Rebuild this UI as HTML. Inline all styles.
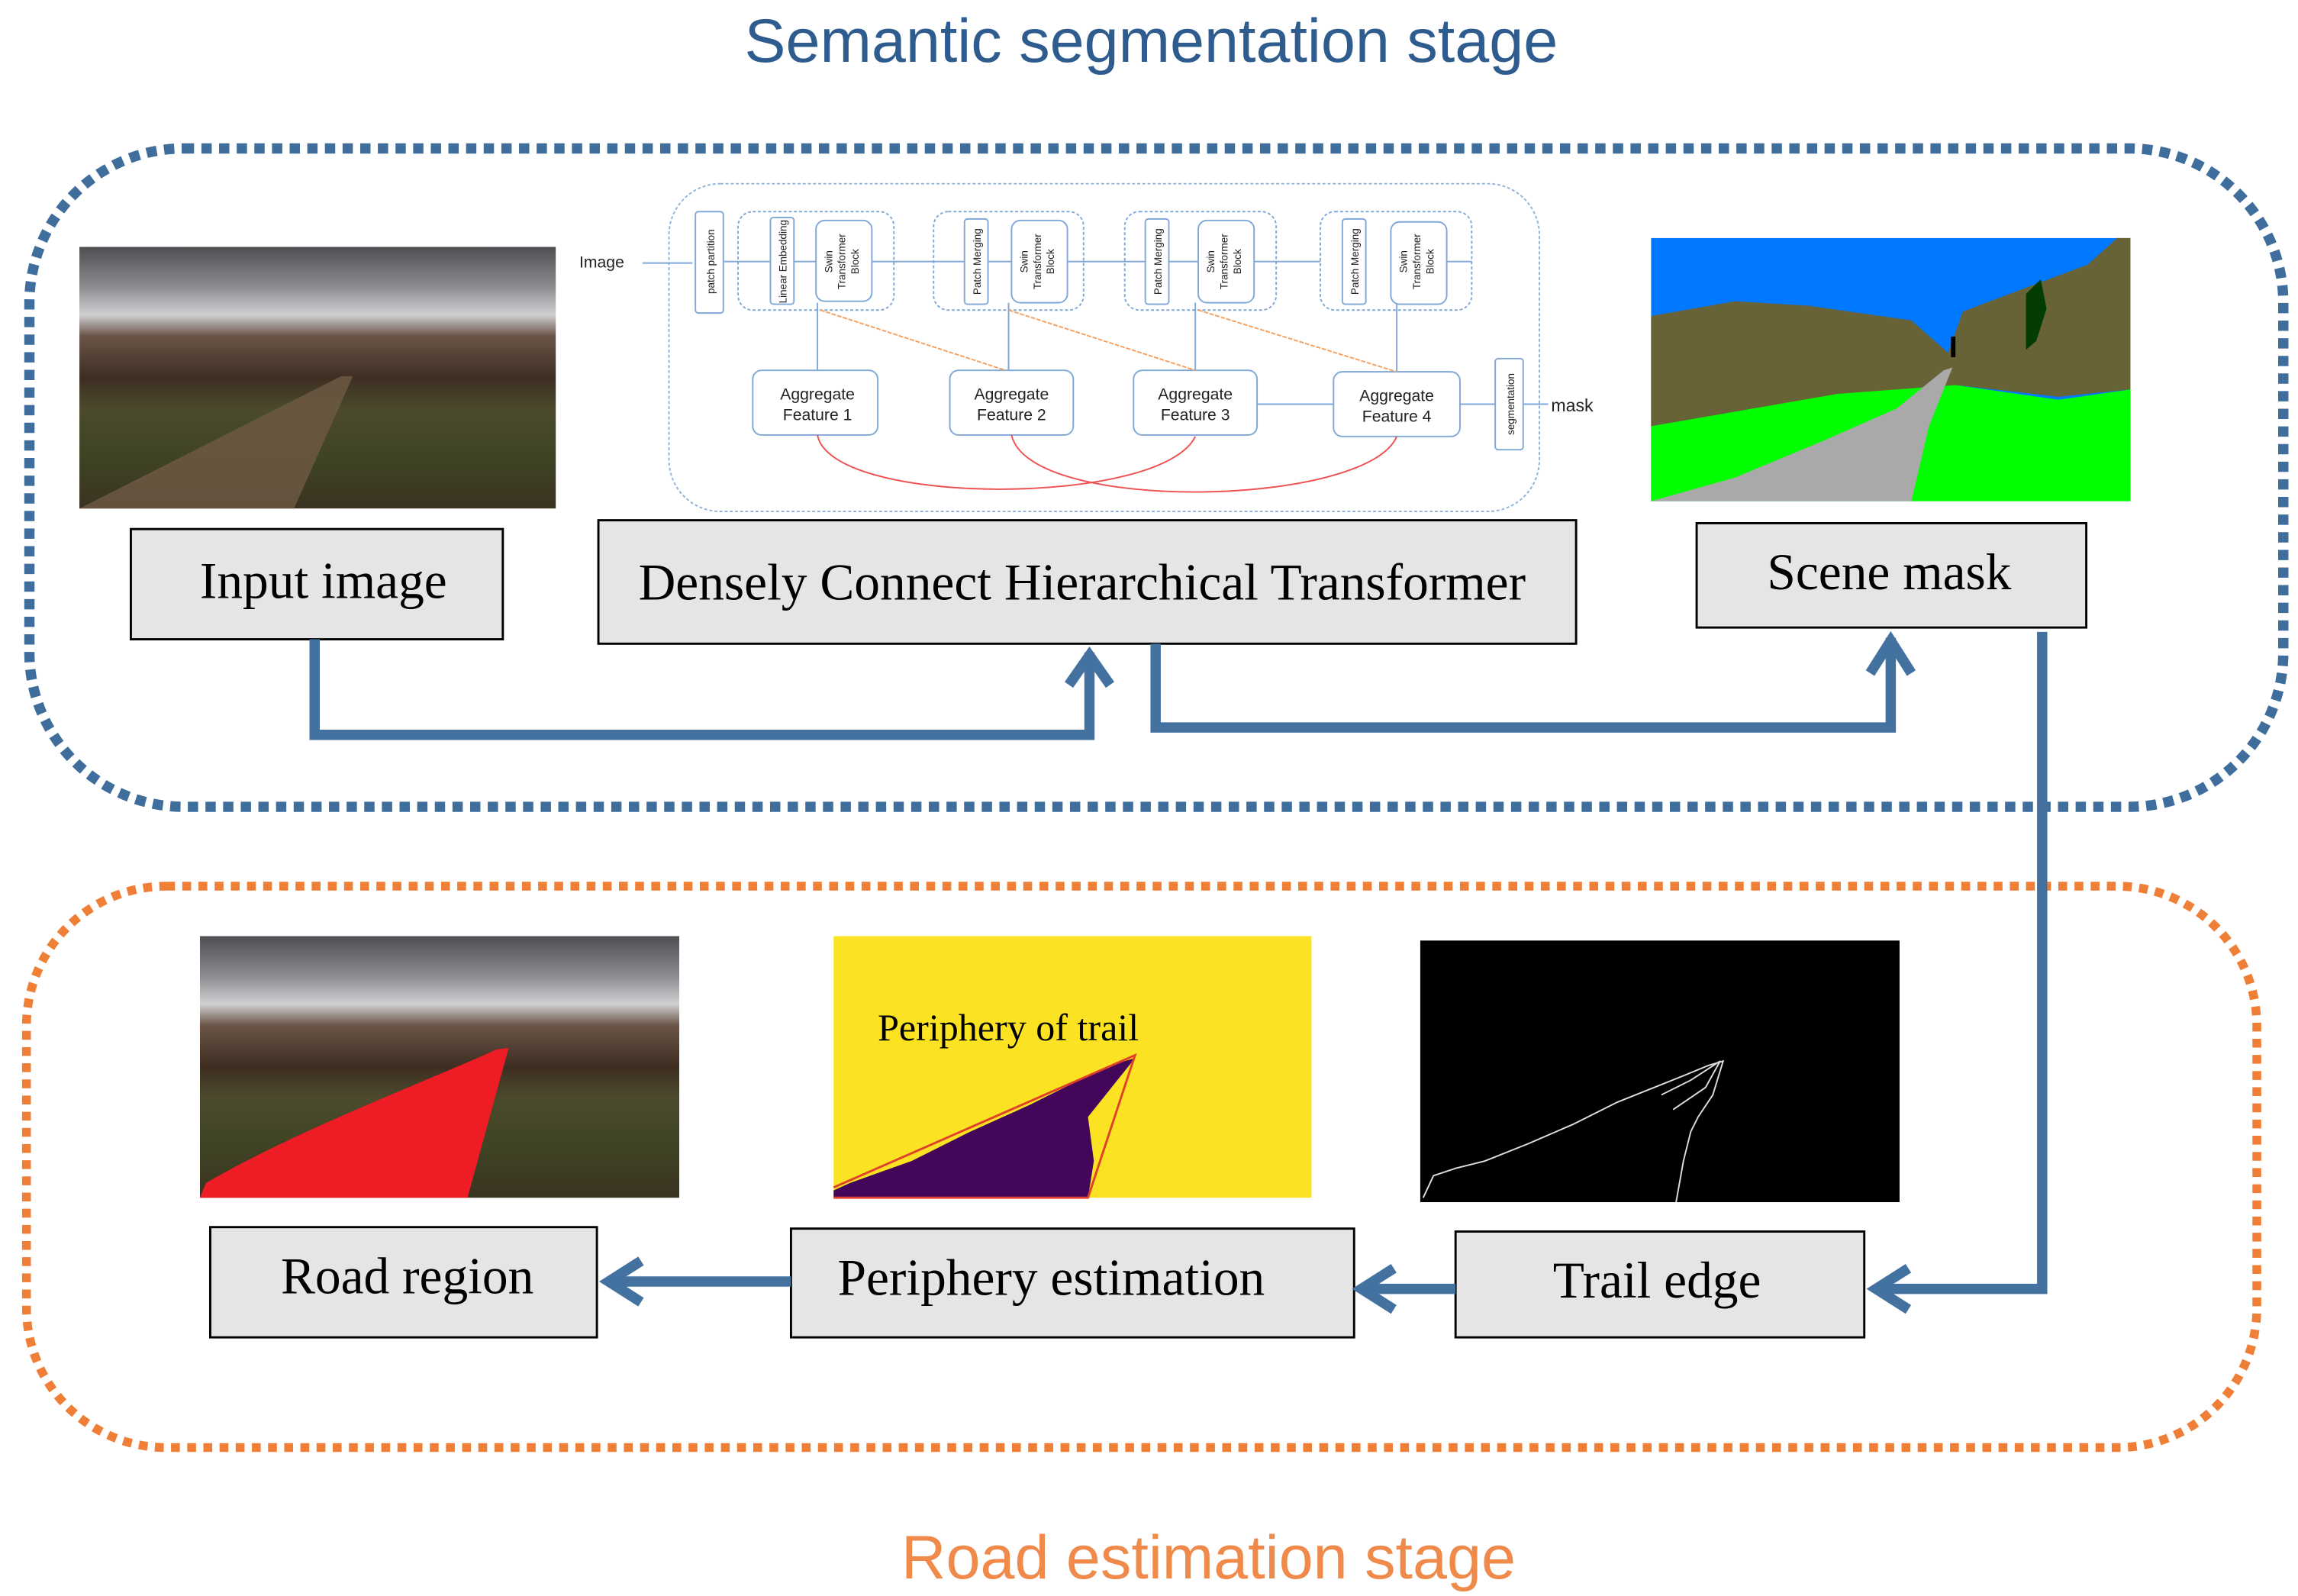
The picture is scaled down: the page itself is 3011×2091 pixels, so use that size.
<!DOCTYPE html>
<html><head><meta charset="utf-8"><style>
html,body{margin:0;padding:0;background:#fff;}
svg{display:block;}
.s{font-family:"Liberation Serif",serif;}
.a{font-family:"Liberation Sans",sans-serif;}
</style></head><body>
<svg width="3011" height="2091" viewBox="0 0 1563 1086" preserveAspectRatio="none" xmlns="http://www.w3.org/2000/svg">
<defs>
<linearGradient id="ph" x1="0" y1="0" x2="0" y2="1">
<stop offset="0" stop-color="#4e4f52"/><stop offset="0.15" stop-color="#8a8b8e"/><stop offset="0.26" stop-color="#cfd0d2"/><stop offset="0.34" stop-color="#6b5548"/><stop offset="0.5" stop-color="#3e2e22"/><stop offset="0.62" stop-color="#4b4a2c"/><stop offset="0.8" stop-color="#3f4424"/><stop offset="1" stop-color="#3a3322"/>
</linearGradient>
</defs>
<text x="783" y="42" text-anchor="middle" class="a" font-size="42" fill="#2f5c8e">Semantic segmentation stage</text>
<text x="822" y="1074" text-anchor="middle" class="a" font-size="42" fill="#f08a4b">Road estimation stage</text>
<rect x="20" y="101" width="1533" height="448" rx="105" fill="none" stroke="#3f6e9c" stroke-width="7" stroke-dasharray="7 5"/>
<rect x="18" y="603" width="1517" height="382" rx="95" fill="none" stroke="#ef7f36" stroke-width="6" stroke-dasharray="6 5"/>

<g>
<rect x="54" y="168" width="324" height="178" fill="url(#ph)"/>
<polygon points="54,346 200,346 240,256 232,256" fill="#6f5a45" opacity="0.8"/>
</g>
<g>
<rect x="1123" y="162" width="326" height="179" fill="#0078ff"/>
<polygon points="1123,215 1180,205 1230,208 1300,218 1325,240 1335,212 1380,195 1420,180 1440,162 1449,162 1449,265 1400,270 1330,262 1250,270 1123,290" fill="#676337"/>
<polygon points="1123,290 1250,268 1330,262 1400,272 1449,265 1449,341 1123,341" fill="#00ff00"/>
<polygon points="1123,341 1300,341 1305,320 1312,290 1328,250 1322,252 1290,278 1240,300 1180,325" fill="#a9a9a9"/>
<rect x="1327" y="229" width="3" height="14" fill="#000"/>
<polygon points="1378,200 1388,190 1392,210 1385,232 1378,238" fill="#033d03"/>
</g>
<g>
<rect x="136" y="637" width="326" height="178" fill="url(#ph)"/>
<path d="M136,815 L318,815 L346,713 L338,714 C280,740 200,770 140,805 Z" fill="#ee1c24"/>
</g>
<g>
<rect x="567" y="637" width="325" height="178" fill="#fbe323"/>
<path d="M567,815 L740,815 L744,790 L740,760 L760,735 L772,720 L765,722 L740,732 L700,752 L660,770 L620,790 L578,805 L567,810 Z" fill="#43065a"/>
<polyline points="567,815 740,815 772,718 567,808" fill="none" stroke="#e0402a" stroke-width="1.5"/>
<text x="597" y="708" class="s" font-size="26" fill="#000">Periphery of trail</text>
</g>
<g>
<rect x="966" y="640" width="326" height="178" fill="#000"/>
<polyline points="968,815 975,800 990,795 1010,790 1040,778 1070,765 1100,750 1125,740 1145,732 1162,725 1172,722 1165,745 1155,760 1150,770 1145,790 1140,818" fill="none" stroke="#ddd" stroke-width="1"/>
<polyline points="1130,745 1150,735 1170,722 1160,740 1138,755" fill="none" stroke="#ddd" stroke-width="1"/>
</g>

<g class="a" font-size="11" fill="#222">
<rect x="455" y="125" width="592" height="223" rx="35" fill="none" stroke="#8fb2d8" stroke-width="1" stroke-dasharray="2 1.5"/>
<text x="394" y="182">Image</text>
<g stroke="#7fa8d8" stroke-width="1" fill="none">
<line x1="437" y1="179" x2="471" y2="179"/>
<line x1="492" y1="178" x2="898" y2="178"/>
<line x1="1001" y1="178" x2="946" y2="178"/>
<rect x="502" y="144" width="106" height="67" rx="10" stroke-dasharray="2 1.5"/>
<rect x="635" y="144" width="102" height="67" rx="10" stroke-dasharray="2 1.5"/>
<rect x="765" y="144" width="103" height="67" rx="10" stroke-dasharray="2 1.5"/>
<rect x="898" y="144" width="103" height="67" rx="10" stroke-dasharray="2 1.5"/>
<rect x="473" y="144" width="19" height="69" rx="2" fill="#fff"/>
<rect x="524" y="148" width="16" height="59" rx="2" fill="#fff"/>
<rect x="555" y="150" width="38" height="55" rx="6" fill="#fff"/>
<rect x="656" y="149" width="16" height="58" rx="2" fill="#fff"/>
<rect x="688" y="150" width="38" height="56" rx="6" fill="#fff"/>
<rect x="779" y="149" width="16" height="58" rx="2" fill="#fff"/>
<rect x="815" y="150" width="38" height="56" rx="6" fill="#fff"/>
<rect x="913" y="149" width="16" height="58" rx="2" fill="#fff"/>
<rect x="946" y="151" width="38" height="56" rx="6" fill="#fff"/>
<rect x="512" y="252" width="85" height="44" rx="6" fill="#fff"/>
<rect x="646" y="252" width="84" height="44" rx="6" fill="#fff"/>
<rect x="771" y="252" width="84" height="44" rx="6" fill="#fff"/>
<rect x="907" y="253" width="86" height="44" rx="6" fill="#fff"/>
<rect x="1017" y="244" width="19" height="62" rx="2" fill="#fff"/>
<line x1="556" y1="206" x2="556" y2="252"/>
<line x1="686" y1="206" x2="686" y2="252"/>
<line x1="813" y1="206" x2="813" y2="252"/>
<line x1="950" y1="207" x2="950" y2="253"/>
<line x1="855" y1="275" x2="907" y2="275"/>
<line x1="993" y1="275" x2="1017" y2="275"/>
<line x1="1036" y1="275" x2="1053" y2="275"/>
</g>
<g stroke="#f4a060" stroke-width="1" stroke-dasharray="3 1">
<line x1="558" y1="211" x2="684" y2="252"/>
<line x1="686" y1="211" x2="813" y2="252"/>
<line x1="815" y1="211" x2="950" y2="253"/>
</g>
<g stroke="#f05050" stroke-width="1" fill="none">
<path d="M556,296 C565,345 790,345 813,297"/>
<path d="M688,296 C700,350 930,345 950,297"/>
</g>
<text x="556" y="272" text-anchor="middle">Aggregate</text><text x="556" y="286" text-anchor="middle">Feature 1</text>
<text x="688" y="272" text-anchor="middle">Aggregate</text><text x="688" y="286" text-anchor="middle">Feature 2</text>
<text x="813" y="272" text-anchor="middle">Aggregate</text><text x="813" y="286" text-anchor="middle">Feature 3</text>
<text x="950" y="273" text-anchor="middle">Aggregate</text><text x="950" y="287" text-anchor="middle">Feature 4</text>
<text x="1055" y="280" font-size="12">mask</text>
<g font-size="7">
<text transform="translate(486,178) rotate(-90)" text-anchor="middle">patch partition</text>
<text transform="translate(535,178) rotate(-90)" text-anchor="middle">Linear Embedding</text>
<text transform="translate(667,178) rotate(-90)" text-anchor="middle">Patch Merging</text>
<text transform="translate(790,178) rotate(-90)" text-anchor="middle">Patch Merging</text>
<text transform="translate(924,178) rotate(-90)" text-anchor="middle">Patch Merging</text>
<text transform="translate(1030,275) rotate(-90)" text-anchor="middle">segmentation</text>
<text transform="translate(566,178) rotate(-90)" text-anchor="middle">Swin</text><text transform="translate(575,178) rotate(-90)" text-anchor="middle">Transformer</text><text transform="translate(584,178) rotate(-90)" text-anchor="middle">Block</text>
<text transform="translate(699,178) rotate(-90)" text-anchor="middle">Swin</text><text transform="translate(708,178) rotate(-90)" text-anchor="middle">Transformer</text><text transform="translate(717,178) rotate(-90)" text-anchor="middle">Block</text>
<text transform="translate(826,178) rotate(-90)" text-anchor="middle">Swin</text><text transform="translate(835,178) rotate(-90)" text-anchor="middle">Transformer</text><text transform="translate(844,178) rotate(-90)" text-anchor="middle">Block</text>
<text transform="translate(957,178) rotate(-90)" text-anchor="middle">Swin</text><text transform="translate(966,178) rotate(-90)" text-anchor="middle">Transformer</text><text transform="translate(975,178) rotate(-90)" text-anchor="middle">Block</text>
</g>
</g>

<g fill="#e5e5e5" stroke="#000" stroke-width="1.5">
<rect x="89" y="360" width="253" height="75"/>
<rect x="407" y="354" width="665" height="84"/>
<rect x="1154" y="356" width="265" height="71"/>
<rect x="143" y="835" width="263" height="75"/>
<rect x="538" y="836" width="383" height="74"/>
<rect x="990" y="838" width="278" height="72"/>
</g>
<g class="s" font-size="35" fill="#000" text-anchor="middle">
<text x="220" y="407">Input image</text>
<text x="736" y="408">Densely Connect Hierarchical Transformer</text>
<text x="1285" y="401">Scene mask</text>
<text x="277" y="880">Road region</text>
<text x="715" y="881">Periphery estimation</text>
<text x="1127" y="883">Trail edge</text>
</g>

<g stroke="#4472a0" stroke-width="7" fill="none" stroke-linejoin="miter">
<polyline points="214,435 214,500 741,500 741,444"/>
<polyline points="727,466 741,446 755,466"/>
<polyline points="786,438 786,495 1286,495 1286,434"/>
<polyline points="1272,458 1286,436 1300,458"/>
<polyline points="1389,430 1389,877 1276,877"/>
<polyline points="1298,863 1276,877 1298,891"/>
<line x1="990" y1="877" x2="926" y2="877"/>
<polyline points="948,863 926,877 948,891"/>
<line x1="538" y1="872" x2="414" y2="872"/>
<polyline points="436,858 414,872 436,886"/>
</g>
</svg>
</body></html>
